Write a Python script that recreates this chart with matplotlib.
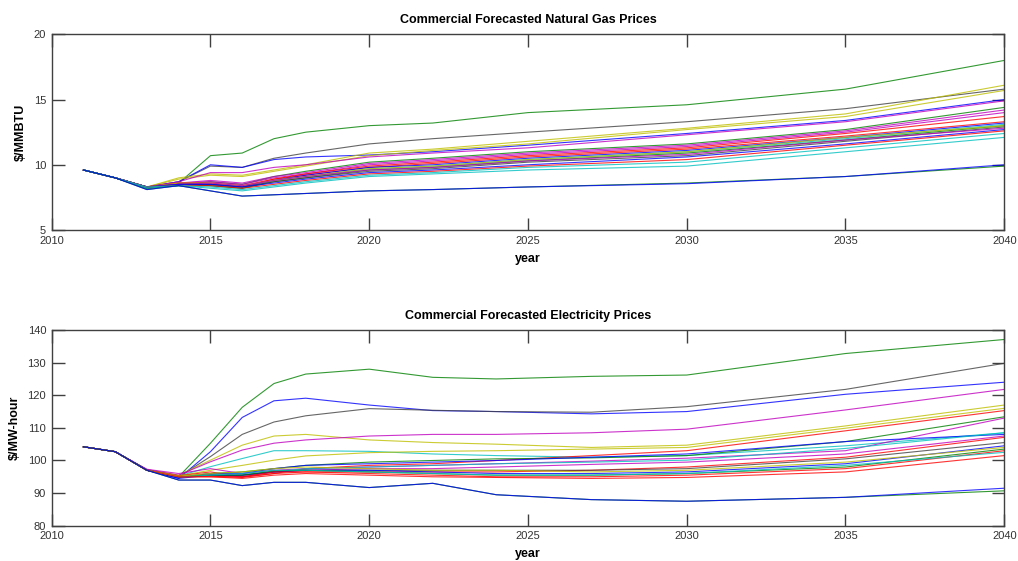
import matplotlib
matplotlib.use('Agg')
import matplotlib.pyplot as plt

plt.rcParams['font.family'] = ['Liberation Sans', 'DejaVu Sans']

# MATLAB default line colours
C = {'b': (0, 0, 1), 'g': (0, 0.5, 0), 'r': (1, 0, 0), 'c': (0, 0.75, 0.75),
     'm': (0.75, 0, 0.75), 'y': (0.75, 0.75, 0), 'k': (0.25, 0.25, 0.25)}

# ---- natural gas ($/MMBTU) ----
gas_years = [2011, 2012, 2013, 2014, 2015, 2016, 2017, 2018, 2020, 2022, 2025, 2030, 2035, 2040]
gas_colors = ['g', 'k', 'b', 'y', 'y', 'm', 'g', 'm', 'm', 'r',
              'r', 'b', 'c', 'g', 'y', 'k', 'm', 'b', 'r', 'c', 'c', 'g', 'b']
gas_series = [
    [9.6, 9.0, 8.2, 8.6, 10.7, 10.9, 12.0, 12.5, 13.0, 13.2, 14.0, 14.6, 15.8, 18.0],
    [9.6, 9.0, 8.3, 8.7, 9.9, 9.8, 10.5, 10.9, 11.6, 12.0, 12.5, 13.3, 14.3, 15.8],
    [9.6, 9.0, 8.3, 8.7, 10.0, 9.8, 10.4, 10.6, 10.75, 11.0, 11.5, 12.4, 13.4, 15.0],
    [9.6, 9.0, 8.3, 9.0, 9.3, 9.2, 9.6, 10.0, 10.9, 11.2, 11.8, 12.8, 13.9, 16.1],
    [9.6, 9.0, 8.3, 8.9, 9.2, 9.1, 9.5, 9.9, 10.7, 11.1, 11.6, 12.7, 13.7, 15.7],
    [9.6, 9.0, 8.3, 8.7, 9.4, 9.4, 9.8, 10.0, 10.6, 10.9, 11.3, 12.3, 13.3, 14.9],
    [9.6, 9.0, 8.2, 8.5, 8.7, 8.5, 9.1, 9.5, 10.2, 10.5, 11.0, 11.6, 12.7, 14.4],
    [9.6, 9.0, 8.3, 8.6, 8.8, 8.6, 9.1, 9.4, 10.1, 10.4, 10.9, 11.5, 12.6, 14.2],
    [9.6, 9.0, 8.3, 8.6, 8.7, 8.5, 9.0, 9.3, 10.0, 10.3, 10.8, 11.4, 12.5, 14.0],
    [9.6, 9.0, 8.3, 8.6, 8.6, 8.4, 8.9, 9.3, 9.9, 10.2, 10.7, 11.3, 12.4, 13.7],
    [9.6, 9.0, 8.3, 8.5, 8.5, 8.3, 8.9, 9.2, 9.8, 10.1, 10.6, 11.2, 12.2, 13.3],
    [9.6, 9.0, 8.3, 8.5, 8.5, 8.3, 8.8, 9.2, 9.8, 10.0, 10.5, 11.1, 12.1, 13.2],
    [9.6, 9.0, 8.3, 8.5, 8.4, 8.2, 8.8, 9.1, 9.7, 9.9, 10.4, 11.0, 12.0, 13.1],
    [9.6, 9.0, 8.2, 8.5, 8.4, 8.2, 8.7, 9.0, 9.6, 9.8, 10.3, 10.9, 11.9, 13.0],
    [9.6, 9.0, 8.3, 8.6, 8.6, 8.4, 8.8, 9.1, 9.7, 9.9, 10.4, 11.0, 12.1, 13.0],
    [9.6, 9.0, 8.3, 8.5, 8.5, 8.3, 8.7, 9.0, 9.5, 9.7, 10.2, 10.7, 11.8, 12.9],
    [9.6, 9.0, 8.3, 8.5, 8.6, 8.4, 8.8, 9.1, 9.6, 9.8, 10.3, 10.8, 11.9, 12.8],
    [9.6, 9.0, 8.3, 8.5, 8.5, 8.3, 8.6, 8.9, 9.4, 9.6, 10.0, 10.6, 11.6, 12.7],
    [9.6, 9.0, 8.3, 8.4, 8.4, 8.2, 8.5, 8.8, 9.3, 9.5, 9.9, 10.4, 11.5, 12.6],
    [9.6, 9.0, 8.3, 8.4, 8.3, 8.1, 8.4, 8.7, 9.2, 9.4, 9.8, 10.2, 11.3, 12.4],
    [9.6, 9.0, 8.2, 8.4, 8.2, 8.0, 8.3, 8.6, 9.1, 9.3, 9.6, 9.9, 11.0, 12.1],
    [9.6, 9.0, 8.1, 8.4, 8.0, 7.6, 7.7, 7.8, 8.0, 8.1, 8.3, 8.6, 9.1, 9.9],
    [9.6, 9.0, 8.1, 8.4, 8.0, 7.6, 7.7, 7.8, 8.0, 8.1, 8.3, 8.55, 9.1, 10.0],
]

# ---- electricity ($/MW-hour) ----
elec_years = [2011, 2012, 2013, 2014, 2015, 2016, 2017, 2018, 2020, 2022, 2024, 2027, 2030, 2035, 2040]
elec_colors = ['g', 'b', 'k', 'y', 'm', 'c', 'y', 'r', 'g', 'm', 'b', 'c',
               'm', 'r', 'k', 'b', 'g', 'r', 'c', 'y', 'r', 'g', 'b']
elec_series = [
    [104.2, 102.7, 97.0, 95.0, 105.3, 116.3, 123.6, 126.5, 128.0, 125.5, 125.0, 125.8, 126.2, 132.8, 137.1],
    [104.2, 102.7, 97.0, 94.5, 102.7, 113.2, 118.3, 119.1, 117.0, 115.3, 115.0, 114.3, 115.0, 120.3, 124.0],
    [104.2, 102.7, 97.0, 95.0, 101.2, 108.0, 111.8, 113.7, 115.9, 115.4, 115.0, 114.8, 116.5, 121.8, 129.8],
    [104.2, 102.7, 97.2, 95.5, 100.1, 104.7, 107.5, 108.0, 106.3, 105.5, 105.0, 104.0, 104.7, 110.6, 117.0],
    [104.2, 102.7, 97.2, 95.5, 99.6, 103.2, 105.3, 106.3, 107.5, 108.0, 108.0, 108.5, 109.6, 115.5, 121.8],
    [104.2, 102.7, 97.0, 95.2, 98.1, 100.6, 103.0, 103.0, 102.8, 102.0, 101.5, 101.0, 101.5, 104.5, 108.5],
    [104.2, 102.7, 97.0, 95.3, 97.0, 98.5, 100.1, 101.4, 102.4, 102.8, 103.0, 103.5, 104.0, 109.9, 116.0],
    [104.2, 102.7, 97.0, 95.3, 96.5, 95.0, 96.0, 97.5, 98.5, 99.0, 100.0, 101.5, 103.0, 109.1, 115.3],
    [104.2, 102.7, 97.0, 95.0, 96.0, 96.5, 97.5, 98.5, 99.5, 100.0, 100.5, 100.8, 101.5, 105.8, 113.4],
    [104.2, 102.7, 97.3, 96.0, 97.5, 96.0, 97.0, 97.5, 98.0, 98.5, 99.0, 99.8, 100.7, 103.0, 113.0],
    [104.2, 102.7, 97.0, 94.8, 96.0, 96.0, 97.5, 98.5, 99.0, 99.5, 100.0, 101.0, 102.0, 105.8, 108.0],
    [104.2, 102.7, 97.0, 95.0, 95.5, 95.5, 96.5, 97.5, 98.0, 98.5, 99.0, 99.5, 100.1, 103.7, 108.5],
    [104.2, 102.7, 97.0, 95.0, 95.5, 95.0, 96.5, 97.0, 97.5, 97.5, 98.0, 98.8, 99.5, 102.0, 107.5],
    [104.2, 102.7, 97.0, 95.0, 95.2, 94.8, 96.0, 96.5, 96.5, 96.5, 96.5, 97.0, 98.0, 101.0, 107.1],
    [104.2, 102.7, 97.0, 95.0, 95.5, 95.5, 96.5, 97.0, 97.0, 97.0, 97.0, 97.0, 97.5, 100.5, 105.5],
    [104.2, 102.7, 97.0, 94.5, 95.5, 95.5, 96.5, 97.0, 97.0, 96.5, 96.0, 96.0, 96.5, 99.0, 104.5],
    [104.2, 102.7, 97.0, 95.0, 95.5, 95.5, 96.8, 97.0, 96.5, 96.0, 95.5, 95.5, 96.0, 98.0, 103.5],
    [104.2, 102.7, 97.0, 95.0, 95.0, 95.0, 96.5, 96.5, 96.0, 95.5, 95.0, 95.0, 95.5, 97.5, 103.0],
    [104.2, 102.7, 97.0, 95.0, 95.5, 96.0, 97.0, 97.0, 96.5, 96.0, 95.5, 95.5, 96.0, 98.5, 102.5],
    [104.2, 102.7, 97.0, 95.2, 96.0, 96.5, 97.5, 98.0, 97.5, 97.0, 97.0, 96.5, 97.0, 99.5, 104.0],
    [104.2, 102.7, 97.0, 95.0, 95.0, 94.5, 95.5, 96.0, 95.5, 95.0, 94.8, 94.5, 94.8, 96.5, 101.5],
    [104.2, 102.7, 97.0, 94.0, 94.0, 92.3, 93.3, 93.3, 91.7, 93.0, 89.5, 88.0, 87.5, 88.7, 90.7],
    [104.2, 102.7, 97.0, 94.0, 94.0, 92.3, 93.3, 93.3, 91.7, 93.0, 89.5, 88.0, 87.5, 88.7, 91.5],
]

fig = plt.figure(figsize=(10.18, 5.61), dpi=100)
ax1 = fig.add_axes([0.0508, 0.590, 0.9357, 0.3488])
ax2 = fig.add_axes([0.0508, 0.0629, 0.9357, 0.3488])


def style(ax, title, ylabel, ylim, yticks):
    ax.set_xlim(2010, 2040)
    ax.set_ylim(*ylim)
    ax.set_xticks(range(2010, 2041, 5))
    ax.set_yticks(yticks)
    ax.tick_params(direction='in', length=9, width=1, top=True, right=True,
                   labelsize=8, colors='#404040', labelcolor='#333333')
    ax.tick_params(axis='x', pad=4)
    ax.tick_params(axis='y', pad=4)
    for s in ax.spines.values():
        s.set_color('#404040')
        s.set_linewidth(1)
    ax.set_title(title, fontsize=9, fontweight='bold', pad=8)
    ax.set_xlabel('year', fontsize=9, fontweight='bold', labelpad=5)
    ax.set_ylabel(ylabel, fontsize=9, fontweight='bold', labelpad=5)


for vals, col in zip(gas_series, gas_colors):
    ax1.plot(gas_years, vals, color=C[col], lw=0.8, alpha=0.8)
for vals, col in zip(elec_series, elec_colors):
    ax2.plot(elec_years, vals, color=C[col], lw=0.8, alpha=0.8)

style(ax1, 'Commercial Forecasted Natural Gas Prices', r'\$/MMBTU', (5, 20), [5, 10, 15, 20])
style(ax2, 'Commercial Forecasted Electricity Prices', r'\$/MW-hour', (80, 140), range(80, 141, 10))

fig.savefig('out.png', dpi=100)
